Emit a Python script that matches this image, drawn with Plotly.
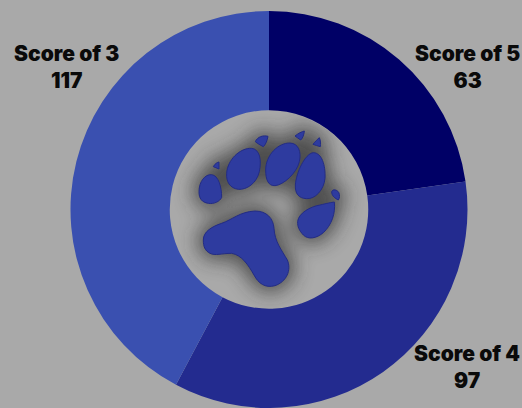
import base64
import plotly.graph_objects as go

categories = ["Score of 5", "Score of 4", "Score of 3"]
values = [63, 97, 117]
colors = ["#000066", "#232B8F", "#3A50B0"]
label_xy = [(467, 67), (467, 367), (66, 67)]

W, H = 522, 408
PAW = [
 "M160 390C160 365 185 350 215 340C245 330 270 305 315 303C350 303 370 325 372 355C374 395 395 420 412 450C425 480 410 515 375 527C345 535 325 520 312 495C295 465 275 435 245 430C215 430 195 438 180 430C165 422 160 410 160 390Z",
 "M147 245C147 215 165 192 185 194C205 196 215 230 215 262C210 275 190 283 175 280C155 277 147 265 147 245Z",
 "M230 190C232 150 270 113 305 115C330 118 335 150 328 185C320 220 290 240 265 238C240 235 228 215 230 190Z",
 "M347 180C347 135 385 98 420 99C445 100 455 125 448 155C440 190 400 225 375 227C355 228 347 210 347 180Z",
 "M436 225C438 190 465 130 490 128C515 128 527 165 525 205C522 240 495 268 470 266C445 265 435 250 436 225Z",
 "M443 335C445 310 480 290 510 285C530 280 545 277 553 276C557 310 545 345 520 368C500 385 475 390 460 375C448 362 442 350 443 335Z",
 "M190 170C195 160 203 157 207 156C207 165 207 172 207 177C200 174 195 172 190 170Z",
 "M316 95C322 80 340 75 354 79C352 92 346 105 340 110C330 105 322 100 316 95Z",
 "M435 78C445 70 455 65 463 63C462 75 458 85 452 90C445 85 440 82 435 78Z",
 "M489 103C495 95 503 87 508 83C512 90 512 102 511 110C503 108 495 105 489 103Z",
 "M545 245C548 237 560 238 566 247C570 255 569 265 565 270C555 265 545 258 545 245Z",
]
d = " ".join(PAW)
svg = f'''<svg xmlns="http://www.w3.org/2000/svg" width="690" height="600" viewBox="0 0 690 600">
<defs><filter id="b" x="-30%" y="-30%" width="160%" height="160%"><feGaussianBlur stdDeviation="30"/></filter>
<clipPath id="c"><circle cx="355" cy="299" r="298"/></clipPath></defs>
<g clip-path="url(#c)"><path d="{d}" fill="#2E2E2E" stroke="#2E2E2E" stroke-width="34" opacity="0.75" filter="url(#b)"/></g>
<path d="{d}" fill="#2E3B9F" stroke="#232C85" stroke-width="3"/></svg>'''
uri = "data:image/svg+xml;base64," + base64.b64encode(svg.encode()).decode()

fig = go.Figure(go.Pie(
    labels=categories, values=values, hole=0.5, sort=False, direction="clockwise",
    rotation=0, textinfo="none", marker=dict(colors=colors, line=dict(width=0)),
    hoverinfo="label+value", showlegend=False,
))
fig.update_layout(
    width=W, height=H, paper_bgcolor="#A9A9A9", plot_bgcolor="#A9A9A9",
    margin=dict(l=70, r=54, t=11, b=0),
    images=[dict(source=uri, xref="paper", yref="paper", x=(150-70)/398, y=1-(110-11)/397,
                 sizex=230/398, sizey=200/397, xanchor="left", yanchor="top",
                 sizing="stretch", layer="above")],
    annotations=[dict(text=f"{c}<br>{v}", xref="paper", yref="paper",
                      x=(x-70)/398, y=1-(y-11)/397, xanchor="center", yanchor="middle",
                      showarrow=False, align="center",
                      font=dict(family="Inter", size=21, color="#0A0A0A", weight=900))
                 for c, v, (x, y) in zip(categories, values, label_xy)],
)
fig.write_html("out.html", config={"displayModeBar": False},
               post_script="document.body.style.margin='0';")
